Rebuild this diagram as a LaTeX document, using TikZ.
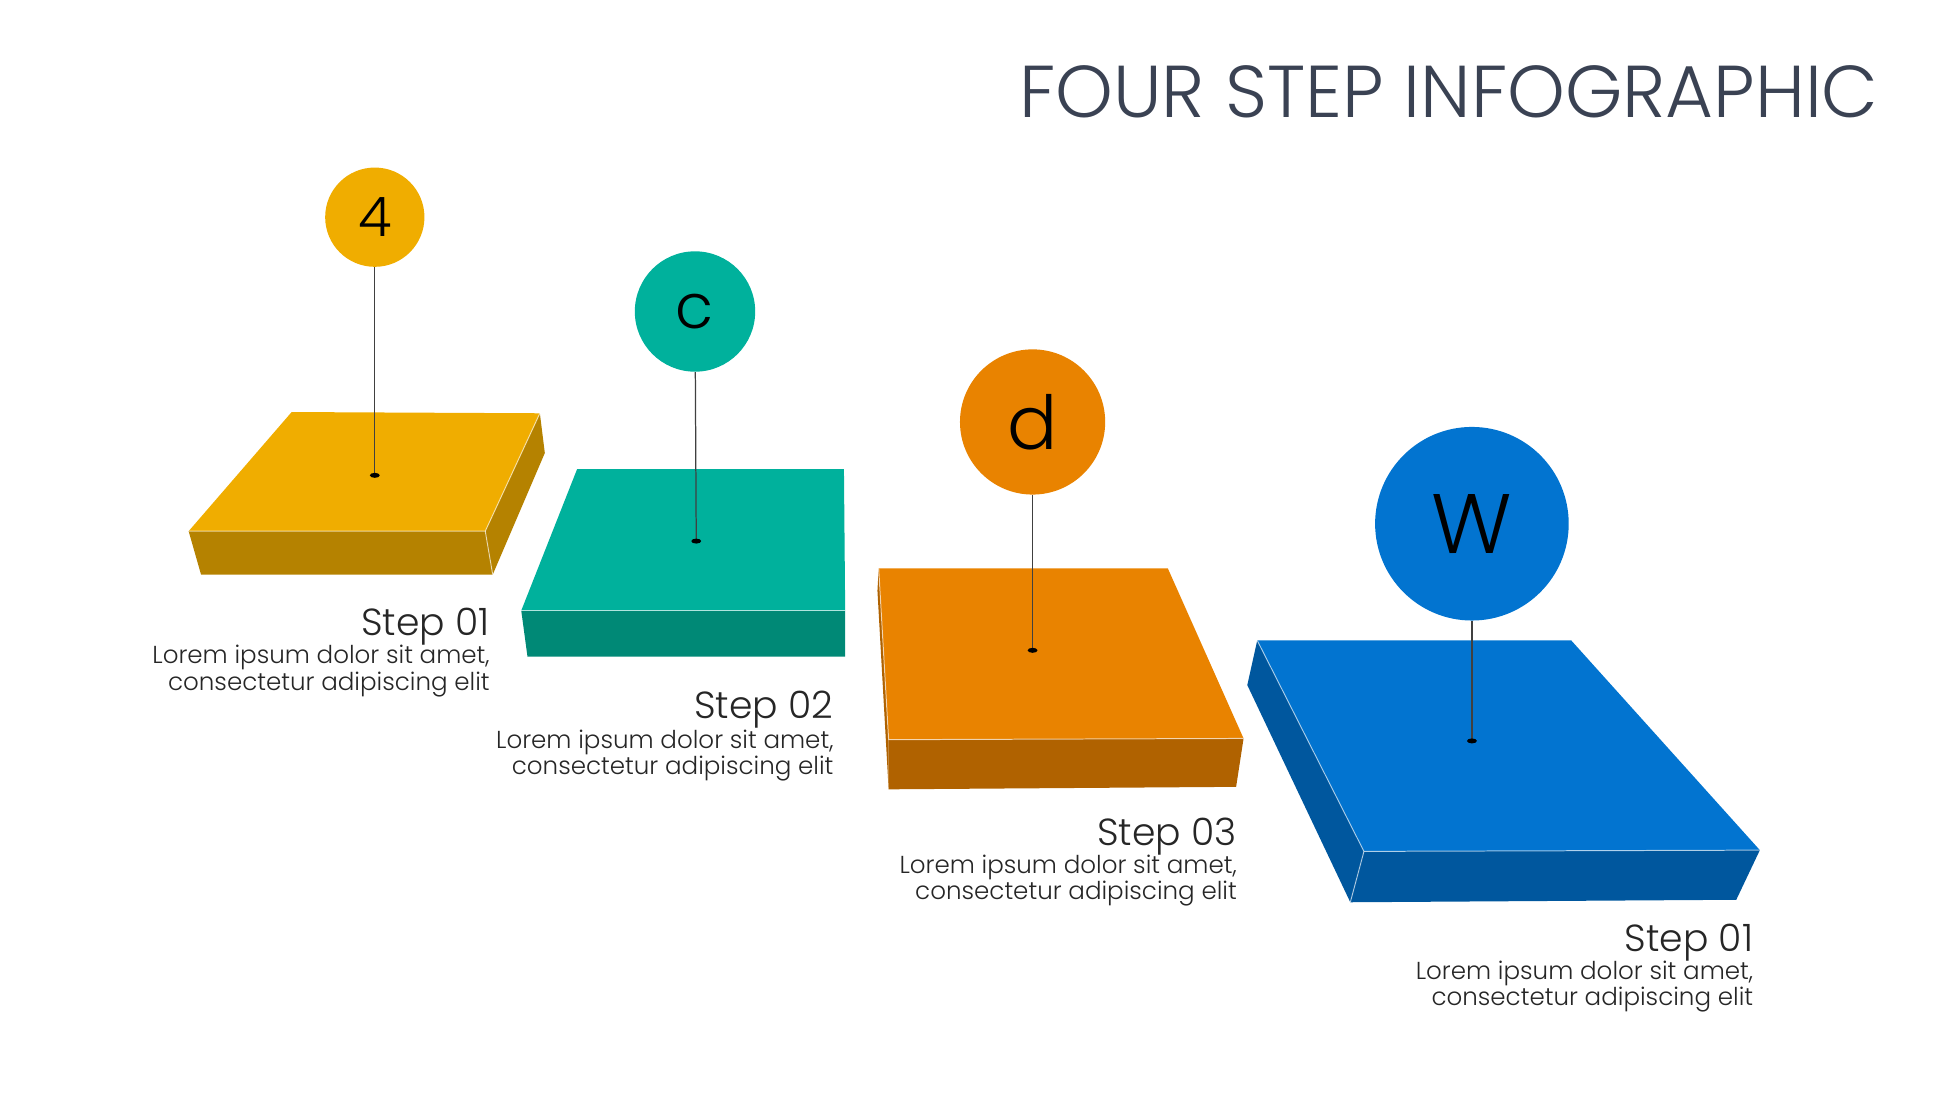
\documentclass[tikz,border=0pt]{standalone}
\usepackage{fontspec}
\setmainfont{Poppins Light}
\usetikzlibrary{positioning}

\definecolor{titlegray}{HTML}{3A4253}
\definecolor{textgray}{HTML}{262626}
\definecolor{ylwtop}{HTML}{F0AD00}
\definecolor{ylwside}{HTML}{B58200}
\definecolor{tealtop}{HTML}{00B19C}
\definecolor{tealside}{HTML}{008976}
\definecolor{orngtop}{HTML}{E98300}
\definecolor{orngside}{HTML}{B06200}
\definecolor{bluetop}{HTML}{0274D0}
\definecolor{blueside}{HTML}{00579E}

\begin{document}
\begin{tikzpicture}[
			x=0.5pt, y=-0.5pt,
			edge/.style={draw=white, draw opacity=0.6, line width=0.4pt},
			badge/.style={circle, inner sep=0pt, minimum size=#1, text=black},
			pin/.style={draw=black!75, line width=0.5pt},
			steplabel/.style={anchor=base east, inner sep=0pt, text=textgray, font=\fontsize{15.2}{17}\selectfont},
			lorem/.style={anchor=base east, inner sep=0pt, align=right, text=textgray, font=\fontsize{9.9}{10.5}\selectfont}
			]
			
			\useasboundingbox (0,0) rectangle (1568,882);
			
			\node[anchor=base east, inner sep=0pt, text=titlegray, font=\fontsize{29.6}{32}\selectfont] (title) at (1514,95) {FOUR STEP INFOGRAPHIC};
			
			% slab 1
			\fill[ylwside] (435,333) -- (439,365) -- (397,463) -- (391,428) -- cycle;
			\fill[ylwside] (152,428) -- (391,428) -- (397,463) -- (162,463) -- cycle;
			\fill[ylwtop] (235,332) -- (435,333) -- (391,428) -- (152,428) -- cycle;
			\draw[edge] (152,428) -- (391,428) -- (435,333);
			\draw[edge] (391,428) -- (397,463);
			
			% slab 2
			\fill[tealside] (420,492) -- (681,492) -- (681,529) -- (425,529) -- cycle;
			\fill[tealtop] (465,378) -- (680,378) -- (681,492) -- (420,492) -- cycle;
			\draw[edge] (420,492) -- (681,492);
			
			% slab 3
			\fill[orngside] (708,458) -- (707,476) -- (716,636) -- (716,596) -- cycle;
			\fill[orngside] (716,596) -- (1002,595) -- (996,634) -- (716,636) -- cycle;
			\fill[orngtop] (708,458) -- (941,458) -- (1002,595) -- (716,596) -- cycle;
			\draw[edge] (708,458) -- (716,596) -- (1002,595);
			
			% slab 4
			\fill[blueside] (1013,516) -- (1005,552) -- (1088,727) -- (1099,686) -- cycle;
			\fill[blueside] (1099,686) -- (1418,685) -- (1399,725) -- (1088,727) -- cycle;
			\fill[bluetop] (1013,516) -- (1266,516) -- (1418,685) -- (1099,686) -- cycle;
			\draw[edge] (1013,516) -- (1099,686) -- (1418,685);
			\draw[edge] (1099,686) -- (1088,727);
			
			% badges and pins
			\node[badge=40pt, fill=ylwtop, font=\fontsize{22}{24}\selectfont] (b1) at (302,175) {4};
			\node[badge=48.5pt, fill=tealtop, font=\fontsize{25}{27}\selectfont] (b2) at (560,251) {c};
			\node[badge=58.5pt, fill=orngtop, font=\fontsize{30}{32}\selectfont] (b3) at (832,340) {d};
			\node[badge=78pt, fill=bluetop, font=\fontsize{34}{36}\selectfont] (b4) at (1186,422) {W};
			
			\coordinate (p1) at (302,383);
			\coordinate (p2) at (561,436);
			\coordinate (p3) at (832,524);
			\coordinate (p4) at (1186,597);
			
			\draw[pin] (b1) -- (p1);
			\draw[pin] (b2) -- (p2);
			\draw[pin] (b3) -- (p3);
			\draw[pin] (b4) -- (p4);
			
			\fill (p1) ellipse (4 and 2);
			\fill (p2) ellipse (4 and 2);
			\fill (p3) ellipse (4 and 2);
			\fill (p4) ellipse (4 and 2);
			
			% labels
			\node[steplabel] (s1) at (395,512) {Step 01};
			\node[lorem] (t1) at (395,556) {Lorem ipsum dolor sit amet,\\consectetur adipiscing elit};
			\node[steplabel] (s2) at (672,579) {Step 02};
			\node[lorem] (t2) at (672,624) {Lorem ipsum dolor sit amet,\\consectetur adipiscing elit};
			\node[steplabel] (s3) at (997,681) {Step 03};
			\node[lorem] (t3) at (997,725) {Lorem ipsum dolor sit amet,\\consectetur adipiscing elit};
			\node[steplabel] (s4) at (1413,767) {Step 01};
			\node[lorem] (t4) at (1413,810) {Lorem ipsum dolor sit amet,\\consectetur adipiscing elit};
			
		\end{tikzpicture}
\end{document}
